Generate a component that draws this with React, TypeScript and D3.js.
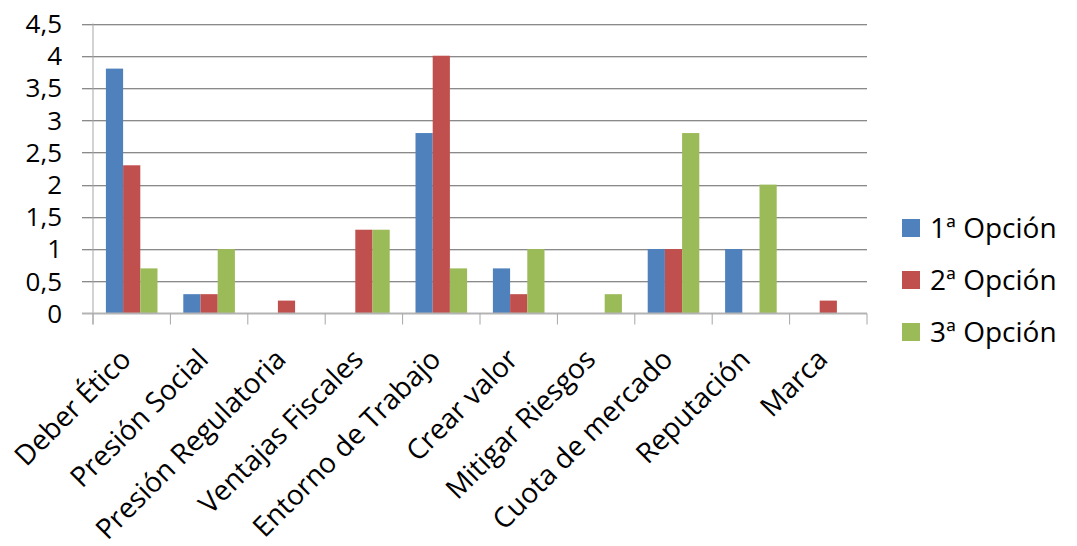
import React from "react";
import * as d3 from "d3";

const categories = [
  "Deber Ético",
  "Presión Social",
  "Presión Regulatoria",
  "Ventajas Fiscales",
  "Entorno de Trabajo",
  "Crear valor",
  "Mitigar Riesgos",
  "Cuota de mercado",
  "Reputación",
  "Marca",
];
const seriesNames = ["1ª Opción", "2ª Opción", "3ª Opción"];
const opcion1 = [3.8, 0.3, 0, 0, 2.8, 0.7, 0, 1, 1, 0];
const opcion2 = [2.3, 0.3, 0.2, 1.3, 4, 0.3, 0, 1, 0, 0.2];
const opcion3 = [0.7, 1, 0, 1.3, 0.7, 1, 0.3, 2.8, 2, 0];
const yTicks = [0, 0.5, 1, 1.5, 2, 2.5, 3, 3.5, 4, 4.5];
const colors = ["#4F81BD", "#C0504D", "#9BBB59"];

const W = 1077;
const H = 546;
const left = 93;
const right = 867;
const top = 23.5;
const bottom = 313.5;
const FONT = "'Open Sans', sans-serif";
const FS = 28;

export default function App() {
  const series = [opcion1, opcion2, opcion3];
  const x = d3.scaleBand<string>().domain(categories).range([left, right]).paddingInner(0).paddingOuter(0);
  const inner = d3
    .scaleBand<number>()
    .domain([0, 1, 2])
    .range([0, x.bandwidth()])
    .paddingOuter(0.75)
    .paddingInner(0);
  const y = d3.scaleLinear().domain([0, 4.5]).range([bottom, top]);
  const fmt = (v: number) => String(v).replace(".", ",");
  const tickXs = categories.map((c) => x(c) as number).concat([right]);

  return (
    <svg
      width={W}
      height={H}
      style={{ position: "absolute", left: 0, top: 0, background: "#fff" }}
      fontFamily={FONT}
    >
      {/* gridlines */}
      {yTicks.filter((t) => t > 0).map((t) => (
        <g key={"g" + t}>
          <line x1={left - 11} x2={right} y1={Math.round(y(t)) + 0.5} y2={Math.round(y(t)) + 0.5} stroke="#8a8a8a" strokeWidth={1} />
          <line x1={left - 11} x2={right} y1={Math.round(y(t)) + 1.5} y2={Math.round(y(t)) + 1.5} stroke="#d8d8d8" strokeWidth={1} />
        </g>
      ))}
      {/* y axis */}
      <line x1={left} x2={left} y1={top} y2={bottom + 11} stroke="#a6a6a6" strokeWidth={1} />
      {yTicks.map((t) => (
        <text
          key={"yl" + t}
          x={62}
          y={y(t)}
          dy="0.36em"
          textAnchor="end"
          fontSize={26}
          fill="#000"
        >
          {fmt(t)}
        </text>
      ))}
      {/* bars */}
      {series.map((s, si) =>
        s.map((v, ci) =>
          v > 0 ? (
            <rect
              key={`b${si}-${ci}`}
              x={(x(categories[ci]) as number) + (inner(si) as number)}
              y={y(v)}
              width={inner.bandwidth()}
              height={bottom - y(v)}
              fill={colors[si]}
            />
          ) : null
        )
      )}
      {/* x axis */}
      <line x1={left - 11} x2={right} y1={bottom} y2={bottom} stroke="#b3b3b3" strokeWidth={2} />
      {tickXs.map((tx, i) => (
        <line key={"xt" + i} x1={tx} x2={tx} y1={bottom} y2={bottom + 11} stroke="#a6a6a6" strokeWidth={1} />
      ))}
      {/* x labels */}
      {categories.map((c) => {
        const cx = (x(c) as number) + x.bandwidth() / 2;
        return (
          <text
            key={"xl" + c}
            transform={`translate(${cx + 1},${361}) rotate(-45)`}
            textAnchor="end"
            fontSize={FS}
            fill="#000"
          >
            {c}
          </text>
        );
      })}
      {/* legend */}
      {seriesNames.map((n, i) => (
        <g key={"lg" + n} transform={`translate(902,${228 + i * 52})`}>
          <rect x={0} y={-9} width={18} height={18} fill={colors[i]} />
          <text x={28} y={0} dy="0.36em" fontSize={FS} fill="#000">
            {n}
          </text>
        </g>
      ))}
    </svg>
  );
}
